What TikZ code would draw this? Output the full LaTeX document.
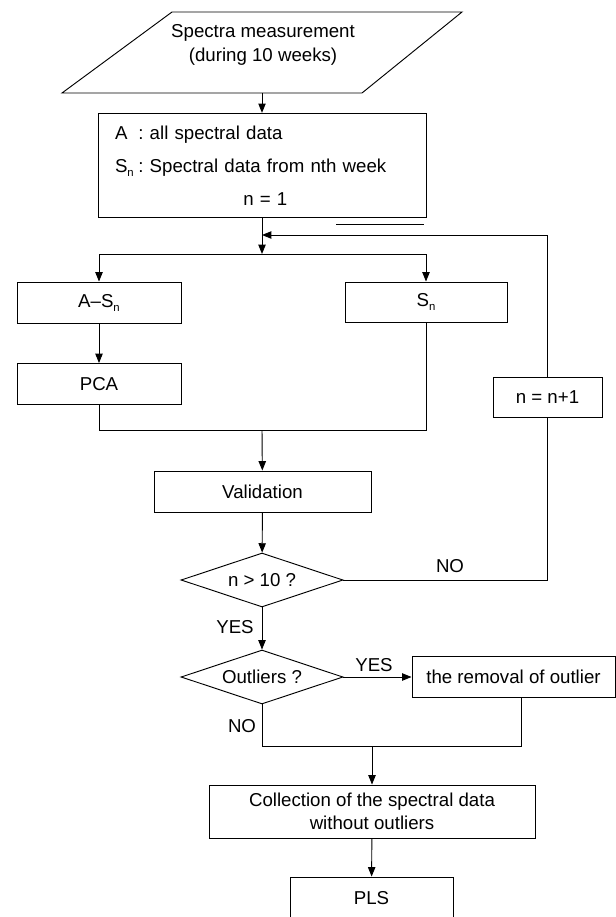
\documentclass[tikz,border=0pt]{standalone}
\usepackage{fontspec}
\setmainfont{Liberation Sans}
\usetikzlibrary{shapes.geometric,arrows.meta}

\tikzstyle{proc}=[draw, rectangle, line width=0.7pt, inner sep=2pt, align=center]
\tikzstyle{cond}=[draw, diamond, aspect=3, line width=0.7pt, inner sep=0pt]
\tikzstyle{answer}=[inner sep=1pt]
\tikzstyle{link}=[line width=0.7pt]
\tikzstyle{flow}=[line width=0.7pt, -{Triangle[length=7pt,width=5.5pt]}]
\newcommand{\subn}{\raisebox{-3pt}{\fontsize{8.5}{8.5}\selectfont n}}

\begin{document}
\begin{tikzpicture}[x=0.75pt, y=-0.75pt, font=\fontsize{14}{17.5}\selectfont]
      \useasboundingbox (0,0) rectangle (616,917);
      \fill[white] (0,0) rectangle (616,917);

      \draw[link] (172,12) -- (462,12) -- (362,93) -- (62,93) -- cycle;
      \node (meas) at (263,45) [align=center] {Spectra measurement\\(during 10 weeks)};
      \coordinate (meas-out) at (262,93);

      \node (init) at (262,165.5)
            [proc, minimum width=246pt, minimum height=71.25pt, inner xsep=12.75pt,
             text width=220.5pt, align=left, font=\fontsize{14}{24.75}\selectfont]
            {\begin{tabular}{@{}p{17.5pt}@{:\ }l@{}}
             A & all spectral data\\
             S\subn & Spectral data from nth week\\
             \multicolumn{2}{c}{\hspace{22pt}n = 1}
             \end{tabular}};
      \draw[link, line width=0.5pt] (336,224) -- (424,224);

      \node (asn) at (99,302.5) [proc, minimum width=123pt, minimum height=30.75pt] {A--S\subn};
      \node (pca) at (99,384) [proc, minimum width=123pt, minimum height=30.75pt] {PCA};
      \node (sn) at (426,302) [proc, minimum width=121.5pt, minimum height=30pt] {S\subn};
      \node (inc) at (547.5,397) [proc, minimum width=81.75pt, minimum height=30pt] {n = n+1};
      \node (valid) at (262.5,491.5) [proc, minimum width=162.75pt, minimum height=30.75pt] {Validation};
      \node (cond1) at (262,580) [cond, minimum width=121.5pt, minimum height=40.5pt] {n > 10 ?};
      \node (cond2) at (262,677) [cond, minimum width=121.5pt, minimum height=40.5pt] {Outliers ?};
      \node (remove) at (513.5,677) [proc, minimum width=152.25pt, minimum height=30.75pt] {the removal of outlier};
      \node (collect) at (372,811.5) [proc, minimum width=244.5pt, minimum height=39.75pt]
            {Collection of the spectral data\\without outliers};
      \node (pls) at (371.5,898) [proc, minimum width=122.25pt, minimum height=31.5pt] {PLS};

      \coordinate (merge) at (262,235);
      \coordinate (split) at (262,254);
      \coordinate (join) at (262,430);
      \coordinate (back) at (521,746);
      \coordinate (rejoin) at (372,746);

      \draw[flow] (meas-out) -- (init);
      \draw[flow] (init) -- (split);
      \draw[flow] (split) -| (asn);
      \draw[flow] (split) -| (sn);
      \draw[flow] (asn) -- (pca);
      \draw[link] (pca) |- (join);
      \draw[link] (sn) |- (join);
      \draw[flow] (join) -- (valid);
      \draw[flow] (valid) -- (cond1);
      \draw[link] (cond1) -| (inc);
      \draw[flow] (inc) |- (merge);
      \draw[flow] (cond1) -- (cond2);
      \draw[flow] (cond2) -- (remove);
      \draw[link] (cond2) |- (back) -- (back |- remove.south);
      \draw[flow] (rejoin) -- (collect);
      \draw[flow] (collect) -- (pls);

      \node (no1) at (450,566) [answer] {NO};
      \node (yes1) at (235,627) [answer] {YES};
      \node (yes2) at (374,665) [answer] {YES};
      \node (no2) at (242,726) [answer] {NO};
    \end{tikzpicture}
\end{document}
